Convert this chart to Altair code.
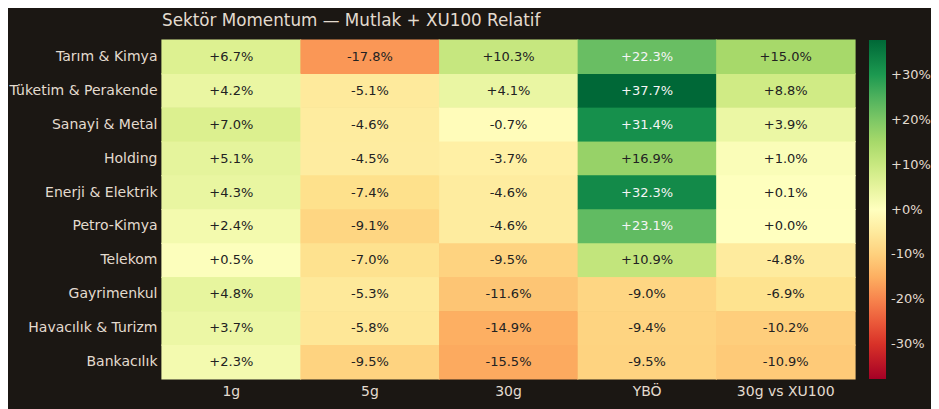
import altair as alt
import pandas as pd

sectors = [
    "Tarım & Kimya", "Tüketim & Perakende", "Sanayi & Metal", "Holding",
    "Enerji & Elektrik", "Petro-Kimya", "Telekom", "Gayrimenkul",
    "Havacılık & Turizm", "Bankacılık",
]
periods = ["1g", "5g", "30g", "YBÖ", "30g vs XU100"]

ret_1g = [6.7, 4.2, 7.0, 5.1, 4.3, 2.4, 0.5, 4.8, 3.7, 2.3]
ret_5g = [-17.8, -5.1, -4.6, -4.5, -7.4, -9.1, -7.0, -5.3, -5.8, -9.5]
ret_30g = [10.3, 4.1, -0.7, -3.7, -4.6, -4.6, -9.5, -11.6, -14.9, -15.5]
ret_ybo = [22.3, 37.7, 31.4, 16.9, 32.3, 23.1, 10.9, -9.0, -9.4, -9.5]
rel_xu100 = [15.0, 8.8, 3.9, 1.0, 0.1, 0.0, -4.8, -6.9, -10.2, -10.9]

rows = []
for col, vals in zip(periods, [ret_1g, ret_5g, ret_30g, ret_ybo, rel_xu100]):
    for s, v in zip(sectors, vals):
        rows.append({"Sektör": s, "Dönem": col, "Değer": v, "Kenar": v,
                     "Etiket": f"{v:+.1f}%"})
df = pd.DataFrame(rows)

vmax = max(abs(v) for v in df["Değer"])
rdylgn = ["#a50026", "#d73027", "#f46d43", "#fdae61", "#fee08b", "#ffffbf",
          "#d9ef8b", "#a6d96a", "#66bd63", "#1a9850", "#006837"]
stops = [-vmax + i * 2 * vmax / 10 for i in range(11)]

bg = "#1b1713"
fg = "#e3dbcf"
font = "DejaVu Sans"

base = alt.Chart(df).encode(
    x=alt.X("Dönem:N", sort=periods, title=None,
            axis=alt.Axis(orient="bottom", labelAngle=0, ticks=False, domain=False,
                          labelPadding=5, labelFontSize=14, labelColor=fg, labelFont=font)),
    y=alt.Y("Sektör:N", sort=sectors, title=None,
            axis=alt.Axis(ticks=False, domain=False, labelPadding=5,
                          labelFontSize=14, labelColor=fg, labelFont=font)),
)

# outline layer under the cells, hides the anti-aliasing seams
seams = base.mark_rect(filled=False, strokeWidth=1.2).encode(
    stroke=alt.Stroke("Kenar:Q",
                      scale=alt.Scale(domain=stops, range=rdylgn, interpolate="rgb"),
                      legend=None),
)

heat = base.mark_rect().encode(
    color=alt.Color(
        "Değer:Q",
        scale=alt.Scale(domain=stops, range=rdylgn, interpolate="rgb"),
        legend=alt.Legend(
            type="gradient", title=None, orient="right", offset=14, padding=0,
            gradientLength=339, gradientThickness=17,
            values=[-30, -20, -10, 0, 10, 20, 30],
            labelExpr="(datum.value >= 0 ? '+' : '') + datum.value + '%'",
            labelFontSize=13, labelColor=fg, labelFont=font, labelOffset=5,
        ),
    ),
)

text = base.mark_text(fontSize=13, font=font).encode(
    text="Etiket:N",
    color=alt.condition(f"abs(datum['Değer']) > {vmax / 2}",
                        alt.value("#f5f5f5"), alt.value("#222222")),
)

chart = (
    alt.layer(seams, heat, text)
    .resolve_scale(color="independent", stroke="independent")
    .properties(
        width=693, height=339,
        title=alt.TitleParams("Sektör Momentum — Mutlak + XU100 Relatif",
                              anchor="start", frame="group", fontSize=16.8,
                              fontWeight="normal", color=fg, font=font, offset=10),
        autosize=alt.AutoSizeParams(type="none"),
        padding={"left": 154, "top": 32, "right": 76, "bottom": 30},
        background=bg,
    )
    .configure_view(stroke=None)
)

chart.save("out.html", embed_options={"renderer": "svg", "actions": False})
